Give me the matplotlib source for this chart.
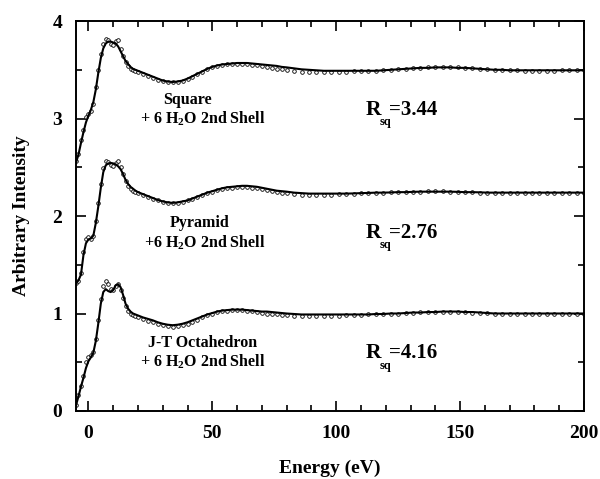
import matplotlib
matplotlib.use("Agg")
import matplotlib.pyplot as plt
from matplotlib.ticker import MultipleLocator

# ── Dados ─────────────────────────────────────────────────────────────────

energia = [
    -5, -4, -3, -2, -1, 0, 1, 2, 3, 4,
    5, 6, 7, 8, 9, 10, 11, 12, 13, 14,
    15, 16, 17, 18, 19, 20, 22, 24, 26, 28,
    30, 32, 34, 36, 38, 40, 42, 44, 46, 48,
    50, 52, 54, 56, 58, 60, 62, 64, 66, 68,
    70, 72, 74, 76, 78, 80, 83, 86, 89, 92,
    95, 98, 101, 104, 107, 110, 113, 116, 119, 122,
    125, 128, 131, 134, 137, 140, 143, 146, 149, 152,
    155, 158, 161, 164, 167, 170, 173, 176, 179, 182,
    185, 188, 191, 194, 197, 200,
]

# Square + 6 H2O (ajuste e experimento)
square_fit = [
    2.55, 2.63, 2.75, 2.86, 2.96, 3.03, 3.09, 3.17, 3.30, 3.47,
    3.62, 3.72, 3.77, 3.79, 3.79, 3.78, 3.77, 3.74, 3.69, 3.64,
    3.59, 3.56, 3.53, 3.51, 3.50, 3.49, 3.47, 3.45, 3.43, 3.41,
    3.39, 3.38, 3.375, 3.38, 3.39, 3.41, 3.435, 3.46, 3.485, 3.51,
    3.53, 3.545, 3.555, 3.56, 3.565, 3.57, 3.57, 3.57, 3.565, 3.56,
    3.555, 3.55, 3.545, 3.54, 3.53, 3.525, 3.515, 3.505, 3.50, 3.495,
    3.49, 3.49, 3.49, 3.49, 3.49, 3.49, 3.49, 3.49, 3.495, 3.50,
    3.505, 3.51, 3.515, 3.52, 3.52, 3.525, 3.525, 3.525, 3.52, 3.52,
    3.515, 3.51, 3.505, 3.50, 3.50, 3.495, 3.495, 3.495, 3.495, 3.495,
    3.495, 3.495, 3.495, 3.495, 3.495, 3.495,
]
square_exp = [
    2.56, 2.64, 2.78, 2.88, 3.02, 3.05, 3.08, 3.15, 3.32, 3.50,
    3.66, 3.76, 3.82, 3.81, 3.76, 3.75, 3.80, 3.81, 3.71, 3.64,
    3.58, 3.54, 3.51, 3.50, 3.49, 3.48, 3.46, 3.44, 3.42, 3.40,
    3.385, 3.375, 3.37, 3.375, 3.385, 3.405, 3.43, 3.455, 3.48, 3.505,
    3.525, 3.54, 3.55, 3.555, 3.56, 3.56, 3.56, 3.555, 3.55, 3.545,
    3.535, 3.53, 3.52, 3.51, 3.505, 3.495, 3.485, 3.48, 3.475, 3.475,
    3.475, 3.475, 3.48, 3.48, 3.485, 3.485, 3.49, 3.49, 3.495, 3.50,
    3.505, 3.51, 3.515, 3.52, 3.525, 3.525, 3.53, 3.53, 3.525, 3.52,
    3.515, 3.51, 3.505, 3.50, 3.50, 3.495, 3.495, 3.49, 3.49, 3.49,
    3.49, 3.49, 3.495, 3.495, 3.495, 3.495,
]

# Pyramid + 6 H2O
pyramid_fit = [
    1.31, 1.34, 1.40, 1.60, 1.72, 1.76, 1.77, 1.80, 1.93, 2.10,
    2.29, 2.45, 2.52, 2.54, 2.545, 2.54, 2.53, 2.51, 2.48, 2.43,
    2.37, 2.33, 2.30, 2.28, 2.26, 2.245, 2.225, 2.205, 2.185, 2.165,
    2.15, 2.14, 2.135, 2.14, 2.15, 2.16, 2.18, 2.20, 2.22, 2.24,
    2.255, 2.27, 2.285, 2.295, 2.30, 2.305, 2.31, 2.31, 2.305, 2.30,
    2.29, 2.28, 2.27, 2.26, 2.255, 2.25, 2.24, 2.235, 2.23, 2.23,
    2.23, 2.23, 2.23, 2.23, 2.232, 2.235, 2.237, 2.24, 2.24, 2.242,
    2.245, 2.245, 2.248, 2.25, 2.25, 2.25, 2.25, 2.25, 2.248, 2.245,
    2.245, 2.243, 2.24, 2.24, 2.24, 2.24, 2.24, 2.24, 2.24, 2.24,
    2.24, 2.24, 2.24, 2.24, 2.24, 2.24,
]
pyramid_exp = [
    1.31, 1.33, 1.42, 1.63, 1.76, 1.78, 1.76, 1.79, 1.95, 2.13,
    2.33, 2.49, 2.56, 2.55, 2.52, 2.51, 2.54, 2.56, 2.50, 2.43,
    2.36, 2.31, 2.28, 2.26, 2.245, 2.235, 2.215, 2.195, 2.175, 2.16,
    2.145, 2.135, 2.13, 2.135, 2.145, 2.16, 2.175, 2.195, 2.215, 2.235,
    2.25, 2.265, 2.275, 2.285, 2.29, 2.295, 2.295, 2.295, 2.29, 2.285,
    2.275, 2.265, 2.255, 2.245, 2.24, 2.235, 2.225, 2.22, 2.22, 2.22,
    2.22, 2.22, 2.225, 2.225, 2.23, 2.235, 2.235, 2.24, 2.24, 2.245,
    2.245, 2.25, 2.25, 2.25, 2.255, 2.255, 2.255, 2.25, 2.25, 2.245,
    2.245, 2.24, 2.24, 2.24, 2.24, 2.24, 2.24, 2.235, 2.235, 2.235,
    2.235, 2.24, 2.24, 2.24, 2.24, 2.24,
]

# J-T Octahedron + 6 H2O
jt_fit = [
    0.06, 0.15, 0.25, 0.34, 0.44, 0.51, 0.55, 0.60, 0.72, 0.90,
    1.10, 1.22, 1.25, 1.23, 1.22, 1.24, 1.29, 1.30, 1.27, 1.19,
    1.10, 1.05, 1.02, 1.00, 0.99, 0.98, 0.96, 0.945, 0.93, 0.91,
    0.895, 0.885, 0.88, 0.885, 0.895, 0.91, 0.93, 0.95, 0.97, 0.99,
    1.005, 1.02, 1.03, 1.035, 1.04, 1.04, 1.04, 1.035, 1.03, 1.025,
    1.02, 1.02, 1.015, 1.01, 1.005, 1.0, 0.995, 0.99, 0.99, 0.99,
    0.99, 0.99, 0.99, 0.99, 0.99, 0.99, 0.99, 0.995, 0.995, 1.0,
    1.0, 1.005, 1.01, 1.01, 1.015, 1.015, 1.02, 1.02, 1.02, 1.015,
    1.015, 1.01, 1.005, 1.0, 1.0, 1.0, 1.0, 1.0, 1.0, 1.0,
    1.0, 1.0, 1.0, 1.0, 1.0, 1.0,
]
jt_exp = [
    0.06, 0.16, 0.26, 0.36, 0.50, 0.55, 0.57, 0.60, 0.74, 0.93,
    1.15, 1.28, 1.33, 1.30, 1.25, 1.24, 1.28, 1.30, 1.24, 1.16,
    1.08, 1.03, 1.00, 0.98, 0.97, 0.96, 0.94, 0.925, 0.91, 0.895,
    0.88, 0.87, 0.865, 0.87, 0.88, 0.895, 0.915, 0.935, 0.96, 0.98,
    1.0, 1.015, 1.025, 1.03, 1.035, 1.035, 1.035, 1.03, 1.025, 1.015,
    1.01, 1.0, 0.995, 0.99, 0.985, 0.98, 0.975, 0.97, 0.97, 0.97,
    0.97, 0.975, 0.975, 0.98, 0.98, 0.985, 0.99, 0.99, 0.995, 1.0,
    1.0, 1.005, 1.01, 1.015, 1.015, 1.02, 1.02, 1.02, 1.02, 1.015,
    1.01, 1.01, 1.005, 1.0, 1.0, 1.0, 0.995, 0.995, 0.995, 0.995,
    0.995, 0.995, 1.0, 1.0, 1.0, 1.0,
]

rotulos = [
    ("Square", "+ 6 H$_2$O 2nd Shell", "=3.44"),
    ("Pyramid", "+6 H$_2$O 2nd Shell", "=2.76"),
    ("J-T Octahedron", "+ 6 H$_2$O 2nd Shell", "=4.16"),
]

# ── Estilo ────────────────────────────────────────────────────────────────

plt.rcParams["font.family"] = ["Liberation Serif", "DejaVu Serif"]
plt.rcParams["font.weight"] = "bold"
plt.rcParams["mathtext.fontset"] = "custom"
plt.rcParams["mathtext.rm"] = "Liberation Serif:bold"
plt.rcParams["mathtext.it"] = "Liberation Serif:bold"
plt.rcParams["mathtext.bf"] = "Liberation Serif:bold"

fig = plt.figure(figsize=(6.0, 4.79), dpi=100)
ax = fig.add_axes([0.1267, 0.142, 0.8466, 0.814])

series = [(square_fit, square_exp), (pyramid_fit, pyramid_exp), (jt_fit, jt_exp)]
for fit, exp in series:
    ax.plot(energia, exp, linestyle="none", marker="o", markersize=2.6,
            markerfacecolor="white", markeredgecolor="black", markeredgewidth=0.6)
    ax.plot(energia, fit, color="black", linewidth=1.5)

# Rótulos dos modelos e R_sq
pos_nome = [(40, 3.19), (45, 1.93), (46, 0.70)]
pos_sub = [(46, 3.00), (47, 1.73), (46, 0.50)]
pos_r = [3.09, 1.83, 0.59]
for (nome, shell, rsq), pn, ps, yr in zip(rotulos, pos_nome, pos_sub, pos_r):
    ax.text(pn[0], pn[1], nome, ha="center", va="center", fontsize=11.5, fontweight="bold")
    ax.text(ps[0], ps[1], shell, ha="center", va="center", fontsize=11.5, fontweight="bold")
    ax.text(112, yr, "R", ha="left", va="center", fontsize=15.5, fontweight="bold")
    ax.text(117.4, yr - 0.13, "sq", ha="left", va="center", fontsize=9, fontweight="bold")
    ax.text(121.5, yr, rsq, ha="left", va="center", fontsize=15, fontweight="bold")

ax.set_xlim(-5, 200)
ax.set_ylim(0, 4)
ax.xaxis.set_major_locator(MultipleLocator(50))
ax.xaxis.set_minor_locator(MultipleLocator(10))
ax.yaxis.set_major_locator(MultipleLocator(1))
ax.yaxis.set_minor_locator(MultipleLocator(0.5))
ax.tick_params(which="both", direction="in", top=True, right=True, width=1.2)
ax.tick_params(which="major", length=7, labelsize=14, pad=10)
ax.tick_params(which="minor", length=4)
for s in ax.spines.values():
    s.set_linewidth(1.4)
for lab in ax.get_xticklabels() + ax.get_yticklabels():
    lab.set_fontweight("bold")

ax.set_xlabel("Energy (eV)", fontsize=14, fontweight="bold", labelpad=13)
ax.set_ylabel("Arbitrary Intensity", fontsize=14, fontweight="bold", labelpad=16)

plt.savefig("out.png", dpi=100)
